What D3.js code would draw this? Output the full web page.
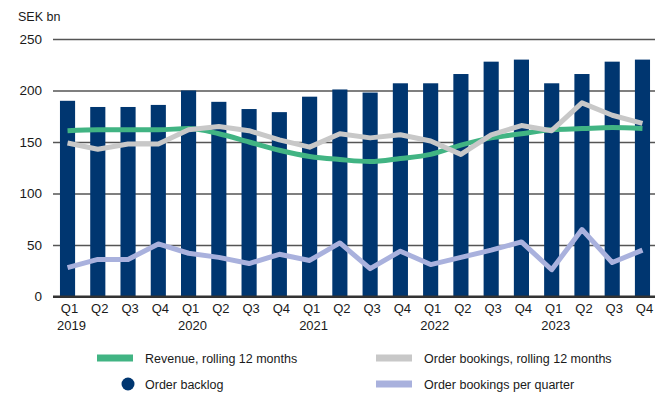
<!DOCTYPE html>
<html>
<head>
<meta charset="utf-8">
<script src="https://cdn.jsdelivr.net/npm/d3@7"></script>
<style>
  html, body { margin: 0; padding: 0; background: #fff; }
  svg { display: block; }
  text { font-family: "Liberation Sans", Arial, sans-serif; fill: #1a1a1a; }
</style>
</head>
<body>
<svg id="chart" width="655" height="393"></svg>
<script>
// Quarterly categories, 2019 Q1 – 2023 Q4
const quarters = ["Q1","Q2","Q3","Q4","Q1","Q2","Q3","Q4","Q1","Q2","Q3","Q4","Q1","Q2","Q3","Q4","Q1","Q2","Q3","Q4"];
const years = ["2019","","","","2020","","","","2021","","","","2022","","","","2023","","",""];

// SEK bn
const orderBacklog = [190,184,184,186,200,189,182,179,194,201,198,207,207,216,228,230,207,216,228,230];
const revenueRolling = [161,162,162,162,163,158,150,142,136,133,131,134,138,147,154,158,162,163,164,163];
const bookingsRolling = [149,143,148,148,162,165,161,152,145,158,154,157,151,138,157,166,161,188,176,168];
const bookingsQuarter = [28,36,36,51,42,38,32,41,35,52,27,44,31,38,45,53,26,65,33,45];

const yTicks = [0,50,100,150,200,250];

const colors = {
  backlog: "#003670",
  revenue: "#41b483",
  bookingsRolling: "#c8c8c8",
  bookingsQuarter: "#a9b1dd"
};

const svg = d3.select("#chart");
const idx = d3.range(quarters.length);

const x = d3.scaleBand().domain(idx).range([52.4, 657.6]).paddingInner(0.5).paddingOuter(0.25);
const y = d3.scaleLinear().domain([0, 250]).range([296.5, 39]);
const cx = i => x(i) + x.bandwidth() / 2;

// Unit label
svg.append("text").attr("x", 18).attr("y", 21).attr("font-size", 12.5).text("SEK bn");

// Horizontal gridlines and y tick labels
const yAxis = d3.axisLeft(y).tickValues(yTicks).tickSize(-(655 - 53)).tickPadding(11);
const gy = svg.append("g").attr("transform", "translate(53,0)").call(yAxis);
gy.select(".domain").remove();
gy.selectAll(".tick line").attr("stroke", d => d === 0 ? "#333" : "#555").attr("stroke-width", d => d === 0 ? 2 : 1.3);
gy.selectAll(".tick text").attr("font-size", 13.5).attr("fill", "#1a1a1a")
  .style("font-family", "'Liberation Sans', Arial, sans-serif");

// Order backlog bars
svg.append("g").selectAll("rect").data(orderBacklog).join("rect")
  .attr("x", (d, i) => x(i))
  .attr("width", x.bandwidth())
  .attr("y", d => y(d))
  .attr("height", d => y(0) - y(d))
  .attr("fill", colors.backlog);

// Re-draw the baseline above the bars
svg.append("line").attr("x1", 53).attr("x2", 655).attr("y1", y(0)).attr("y2", y(0))
  .attr("stroke", "#333").attr("stroke-width", 2);

// Lines
const straight = d3.line().x((d, i) => cx(i)).y(d => y(d));
const smooth = d3.line().x((d, i) => cx(i)).y(d => y(d)).curve(d3.curveMonotoneX);

function drawLine(data, gen, color) {
  svg.append("path").datum(data).attr("d", gen)
    .attr("fill", "none").attr("stroke", color).attr("stroke-width", 5)
    .attr("stroke-linejoin", "round").attr("stroke-linecap", "butt");
}
drawLine(bookingsQuarter, straight, colors.bookingsQuarter);
drawLine(revenueRolling, smooth, colors.revenue);
drawLine(bookingsRolling, straight, colors.bookingsRolling);

// X axis labels
const gx = svg.append("g");
gx.selectAll("text.q").data(quarters).join("text").attr("class", "q")
  .attr("x", (d, i) => cx(i) + 2).attr("y", 313).attr("text-anchor", "middle")
  .attr("font-size", 13).text(d => d);
gx.selectAll("text.yr").data(years).join("text").attr("class", "yr")
  .attr("x", (d, i) => cx(i) + 4).attr("y", 330).attr("text-anchor", "middle")
  .attr("font-size", 13).text(d => d);

// Legend
const legend = [
  { label: "Revenue, rolling 12 months", color: colors.revenue, type: "bar", x: 97, y: 358 },
  { label: "Order bookings, rolling 12 months", color: colors.bookingsRolling, type: "bar", x: 376, y: 358 },
  { label: "Order backlog", color: colors.backlog, type: "dot", x: 97, y: 384 },
  { label: "Order bookings per quarter", color: colors.bookingsQuarter, type: "bar", x: 376, y: 384 }
];
const lg = svg.append("g").selectAll("g").data(legend).join("g")
  .attr("transform", d => `translate(${d.x},${d.y})`);
lg.filter(d => d.type === "bar").append("rect")
  .attr("x", 0).attr("y", -3.5).attr("width", 36).attr("height", 7).attr("fill", d => d.color);
lg.filter(d => d.type === "dot").append("circle")
  .attr("cx", 31).attr("cy", 0).attr("r", 6.5).attr("fill", d => d.color);
lg.append("text").attr("x", 48).attr("y", 4.5).attr("font-size", 12.5).text(d => d.label);
</script>
</body>
</html>
